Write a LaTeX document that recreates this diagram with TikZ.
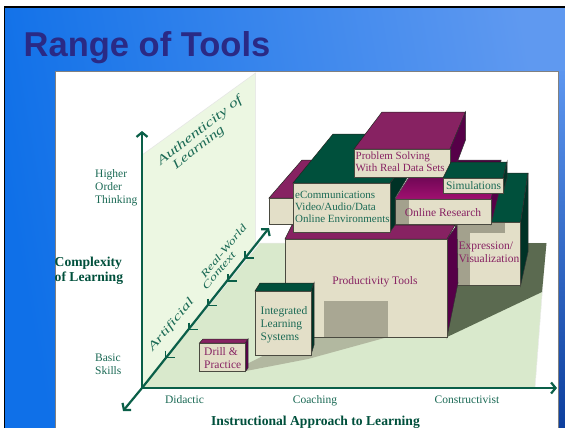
\documentclass[tikz,border=0pt]{standalone}
\usepackage{fontspec}
\setmainfont{Liberation Serif}
\newfontfamily\titlefont{Liberation Sans}
\usetikzlibrary{arrows.meta}
\definecolor{cardgrn}{HTML}{00503C}
\definecolor{dkgrn}{HTML}{003226}
\definecolor{axisgrn}{HTML}{0A5F48}
\definecolor{txtgrn}{HTML}{1B6A55}
\definecolor{mag}{HTML}{872262}
\definecolor{dkmag}{HTML}{560048}
\definecolor{face}{HTML}{E3DFC8}
\definecolor{edge}{HTML}{4A4A40}
\definecolor{wallc}{HTML}{ECF7E2}
\definecolor{floorc}{HTML}{D9E9CC}
\definecolor{shdark}{HTML}{5B6A50}
\definecolor{shlight}{HTML}{B2B8A0}
\definecolor{facesh}{HTML}{A3A18D}
\definecolor{bgl}{HTML}{0F70E8}
\definecolor{bgr}{HTML}{5F99F0}
\definecolor{stripa}{HTML}{5C96F0}
\definecolor{stripb}{HTML}{A6BDE0}
\definecolor{stripc}{HTML}{0D3F9E}
\definecolor{titlec}{HTML}{2A2A85}
\definecolor{orgA}{HTML}{4A0040}
\definecolor{orgB}{HTML}{A01070}
\tikzset{
  frontface/.style={fill=face,draw=edge,line width=.9pt},
  topgrn/.style={fill=cardgrn,draw=edge!50!black,line width=.5pt},
  sidegrn/.style={fill=dkgrn,draw=black!80,line width=.5pt},
  topmag/.style={fill=mag,draw=edge!50!black,line width=.5pt},
  sidemag/.style={fill=dkmag,draw=black!80,line width=.5pt},
  axisline/.style={draw=axisgrn,line width=2.2pt,arrows={-Straight Barb[length=4.5pt,width=11pt,line width=2.2pt]}},
  tickline/.style={draw=axisgrn,line width=1.1pt},
  lblg/.style={text=txtgrn,font=\fontsize{11.5}{13}\selectfont,align=left,inner sep=0pt},
  lblm/.style={text=mag,font=\fontsize{11.5}{13}\selectfont,align=left,inner sep=0pt},
  tight/.style={font=\fontsize{11}{12}\selectfont},
  lblbold/.style={text=cardgrn,font=\fontsize{13.6}{15.5}\selectfont\bfseries,align=left,inner sep=0pt},
  lblit/.style={text=txtgrn,inner sep=0pt,transform shape},
}
\begin{document}
\begin{tikzpicture}[x=1pt,y=-1pt]
\useasboundingbox (0,0) rectangle (565,428);
\fill[white] (0,0) rectangle (565,428);
% slide
\shade[left color=bgl,right color=bgr,shading angle=100] (4,7) rectangle (565,428);
\fill[black] (3.5,6) rectangle (565,8);
\fill[black] (3.5,6) rectangle (5,428);
\shade[top color=stripa,middle color=stripb,bottom color=stripc] (558,72) rectangle (565,428);
\node[anchor=base west,inner sep=0pt,text=titlec] (title) at (23.5,56.5) {\titlefont\bfseries\fontsize{34.5}{36}\selectfont Range of Tools};
% card
\filldraw[fill=white,draw=gray,line width=1pt] (55,72) rectangle (558,432);
% wall
\filldraw[fill=wallc,draw=black!10,line width=.5pt] (142,155) -- (255.5,73) -- (255.5,243) -- (142,388) -- cycle;
% floor
\filldraw[fill=floorc,draw=black!8,line width=.5pt] (142,388) -- (260,243) -- (546,243) -- (535,388) -- cycle;
% floor shadows
\fill[shdark] (447,337) -- (542,292) -- (546.5,243) -- (400,243) -- cycle;
\fill[shlight] (246,371) -- (308,359) -- (388,337) -- (300,337) -- (247,364) -- cycle;
% axes
\coordinate (O) at (142,388);
\coordinate (vTop) at (142,131);
\coordinate (hEnd) at (557,388);
\coordinate (dFar) at (269,228);
\coordinate (dNear) at (123,411);
\path[axisline] (O) -- (vTop);
\path[axisline] (O) -- (hEnd);
\path[axisline] (O) -- (dFar);
\path[axisline] (O) -- (dNear);
\coordinate (t1) at (165.5,357.5);
\coordinate (t2) at (189,329.5);
\coordinate (t3) at (208,305.5);
\coordinate (t4) at (228,281);
\coordinate (t5) at (245,258);
\foreach \t in {t1,t2,t3,t4,t5}{\draw[tickline] (\t) ++(0,-7) -- (\t) -- ++(9,0);}
% back magenta block
\filldraw[topmag] (269,198) -- (302,160) -- (345,160) -- (345,198) -- cycle;
\filldraw[frontface] (269,198) rectangle (300,224);
% Expression
\filldraw[topgrn] (455,222) -- (490,173) -- (528,173) -- (520.7,222) -- cycle;
\filldraw[sidegrn] (520.7,222) -- (528,173) -- (528,252) -- (520.7,285) -- cycle;
\filldraw[frontface] (455,222) rectangle (520.7,285);
\fill[facesh] (455.5,222.5) rectangle (470,284.5);
\fill[facesh] (470,222.5) rectangle (505,233);
\node[lblm,anchor=north west] (expr) at (458.5,242) {Expression/\\Visualization};
% Productivity
\filldraw[topmag] (285,239) -- (292,225) -- (455,225) -- (447,239) -- cycle;
\filldraw[sidemag] (447,239) -- (457,225) -- (458,283) -- (447,337) -- cycle;
\filldraw[frontface] (285,239) rectangle (447,337);
\fill[facesh!90!face] (324,301) rectangle (388,336.5);
\node[lblm] (prod) at (375,282) {Productivity Tools};
% Online Research
\shade[top color=orgA,bottom color=orgB,draw=black!70,line width=.5pt] (395,199) -- (420,160) -- (501,160) -- (491,199) -- cycle;
\filldraw[sidemag] (491,199) -- (501,160) -- (499,193) -- (491,224) -- cycle;
\filldraw[frontface] (395,199) rectangle (491.5,224);
\fill[facesh] (395.5,199.5) rectangle (409,223.5);
\node[lblm] (online) at (443,212.5) {Online Research};
% eCommunications
\filldraw[topgrn] (293,183) -- (333,134) -- (430,134) -- (390,183) -- cycle;
\filldraw[sidegrn] (390,183) -- (430,134) -- (407,178) -- (395,198) -- (395,225) -- (390,232) -- cycle;
\filldraw[frontface] (293,183) rectangle (390,232);
\node[lblg,tight,anchor=north west] (ecomm) at (295,191) {eCommunications\\Video/Audio/Data\\Online Environments};
% Problem Solving
\filldraw[topmag] (354,149) -- (382,112) -- (465.5,112) -- (450,149) -- cycle;
\filldraw[sidemag] (450,149) -- (465.5,112) -- (465.5,140) -- (458,160) -- (450,177) -- cycle;
\filldraw[frontface] (354,149) rectangle (450,177);
\node[lblm,tight,anchor=north west] (prob) at (355.5,152) {Problem Solving\\With Real Data Sets};
% Simulations
\filldraw[topgrn] (443,178) -- (451,162) -- (507,162) -- (503,178) -- cycle;
\filldraw[sidegrn] (503,178) -- (507,162) -- (507,178) -- (503,193) -- cycle;
\filldraw[frontface] (443,178) rectangle (503,193);
\node[lblg] (sim) at (473.5,185.5) {Simulations};
% Integrated
\filldraw[topgrn] (255,291) -- (260,283) -- (314,283) -- (311,291) -- cycle;
\filldraw[sidegrn] (311,291) -- (314,283) -- (314,345) -- (311,355) -- cycle;
\filldraw[frontface] (255,291) rectangle (311,355);
\node[lblg,anchor=north west] (ils) at (260.5,306.5) {Integrated\\Learning\\Systems};
% Drill
\filldraw[topmag] (199.5,343) -- (203,339) -- (248,339) -- (245.5,343) -- cycle;
\filldraw[sidemag] (245.5,343) -- (248,339) -- (248,368) -- (245.5,371.5) -- cycle;
\filldraw[frontface] (199.5,343) rectangle (245.5,371.5);
\node[lblm,anchor=north west] (drill) at (204,347.8) {Drill \&\\Practice};
% axis labels
\node[lblg,anchor=north west] (high) at (95,169.5) {Higher\\Order\\Thinking};
\node[lblg,anchor=north west] (basic) at (95,353.5) {Basic\\Skills};
\node[lblg,anchor=base] (did) at (184.5,403) {Didactic};
\node[lblg,anchor=base] (coach) at (315,403) {Coaching};
\node[lblg,anchor=base] (cons) at (467,403) {Constructivist};
\node[lblbold,anchor=north west] (cplx) at (54.5,256.5) {Complexity\\of Learning};
\node[lblbold] (instr) at (315.5,422) {Instructional Approach to Learning};
% italic wall labels
\node[lblit,font=\fontsize{12.5}{14}\selectfont\itshape,rotate=38,xscale=1.42] (auth) at (200,131) {Authenticity of};
\node[lblit,font=\fontsize{12.5}{14}\selectfont\itshape,rotate=38,xscale=1.35] (learn) at (199,148) {Learning};
\node[lblit,font=\fontsize{10}{11}\selectfont\itshape,rotate=50,xscale=1.43] (real) at (223.5,251) {Real-World};
\node[lblit,font=\fontsize{10}{11}\selectfont\itshape,rotate=50,xscale=1.48] (ctx) at (219,270.5) {Context};
\node[lblit,font=\fontsize{11.5}{13}\selectfont\itshape,rotate=50,xscale=1.55] (art) at (171.5,325) {Artificial};
\end{tikzpicture}
\end{document}
